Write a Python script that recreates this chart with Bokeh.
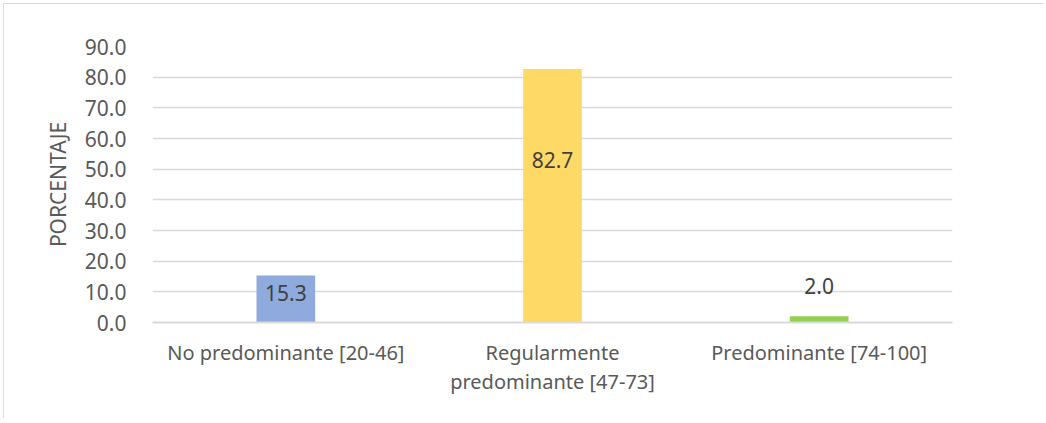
from bokeh.plotting import figure
from bokeh.models import ColumnDataSource, Range1d, SingleIntervalTicker, NumeralTickFormatter, LabelSet
from bokeh.core.properties import value
from bokeh.embed import file_html
from bokeh.resources import INLINE

categories = ["No predominante [20-46]", "Regularmente\npredominante [47-73]", "Predominante [74-100]"]
values = [15.3, 82.7, 2.0]
colors = ["#8FAADC", "#FFD966", "#92D050"]
value_labels = ["15.3", "82.7", "2.0"]
# label placement (pixels relative to bar top; positive = up)
label_offsets = [-17, -91, 30]

FONT = "Noto Sans"
src = ColumnDataSource(dict(cat=categories, val=values, col=colors, lab=value_labels, off=label_offsets))

p = figure(x_range=categories, y_range=Range1d(0, 90), width=1040, height=415,
           output_backend="svg", toolbar_location=None,
           min_border_left=148, min_border_right=92, min_border_top=42, min_border_bottom=97)
p.styles = {"margin-left": "3px", "margin-top": "3px",
            "border-left": "1px solid #D9D9D9", "border-top": "1px solid #D9D9D9"}
p.outline_line_color = None
p.background_fill_color = "white"
p.border_fill_color = "white"

p.vbar(x="cat", top="val", width=0.22, fill_color="col", line_color=None, source=src)

labels = LabelSet(x="cat", y="val", text="lab", y_offset="off", source=src,
                  text_align="center", text_baseline="middle",
                  text_font=value(FONT), text_font_size="21px", text_color="#404040")
p.add_layout(labels)

p.yaxis.ticker = SingleIntervalTicker(interval=10)
p.yaxis.formatter = NumeralTickFormatter(format="0.0")
p.yaxis.axis_line_color = None
p.yaxis.major_tick_line_color = None
p.yaxis.minor_tick_line_color = None
p.yaxis.major_label_standoff = 20
p.yaxis.major_label_text_font = FONT
p.yaxis.major_label_text_font_size = "21px"
p.yaxis.major_label_text_color = "#595959"
p.yaxis.axis_label = "PORCENTAJE"
p.yaxis.axis_label_text_font = FONT
p.yaxis.axis_label_text_font_size = "21px"
p.yaxis.axis_label_text_font_style = "normal"
p.yaxis.axis_label_text_color = "#595959"
p.yaxis.axis_label_standoff = 10

p.xaxis.axis_line_color = "#D9D9D9"
p.xaxis.axis_line_width = 2
p.xaxis.major_tick_line_color = None
p.xaxis.minor_tick_line_color = None
p.xaxis.major_label_standoff = 10
p.xaxis.major_label_text_font = FONT
p.xaxis.major_label_text_font_size = "20px"
p.xaxis.major_label_text_color = "#595959"
p.xaxis.major_label_text_line_height = 1.1

p.xgrid.grid_line_color = None
p.ygrid.grid_line_color = "#D9D9D9"
p.ygrid.grid_line_width = 1.5

open("out.html", "w").write(file_html(p, INLINE))
